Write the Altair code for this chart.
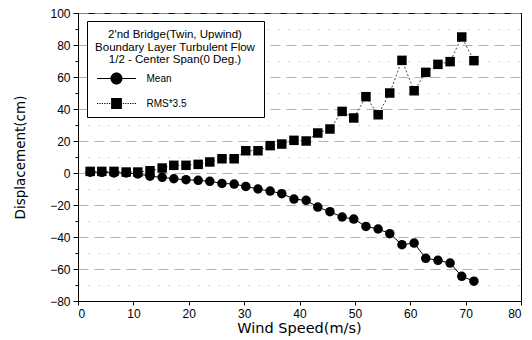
import altair as alt
import pandas as pd

wind_speed = [2.2, 4.3, 6.5, 8.7, 10.8, 13.0, 15.2, 17.3, 19.5, 21.7, 23.8,
              26.0, 28.2, 30.3, 32.5, 34.7, 36.8, 39.0, 41.2, 43.3, 45.5, 47.7,
              49.8, 52.0, 54.2, 56.3, 58.5, 60.7, 62.8, 65.0, 67.2, 69.3, 71.5]
mean_disp = [0.5, 0.4, 0.0, 0.0, -0.6, -2.0, -2.7, -3.6, -4.2, -4.6, -5.2,
             -6.5, -6.9, -8.4, -10.0, -11.3, -12.9, -16.3, -17.1, -21.3, -24.2, -27.5,
             -28.8, -33.4, -35.0, -37.9, -44.8, -43.8, -53.3, -54.6, -56.3, -64.6, -67.6]
rms_disp = [1.0, 1.0, 1.0, 0.6, 0.6, 1.4, 3.1, 4.8, 4.8, 5.4, 6.9,
            8.9, 8.9, 13.9, 13.9, 17.1, 18.1, 20.4, 20.0, 25.0, 27.5, 38.5,
            34.4, 47.7, 36.4, 50.0, 70.4, 51.4, 62.9, 67.9, 69.6, 85.0, 70.2]
series_names = ["Mean", "RMS*3.5"]
legend_title = ["2'nd Bridge(Twin, Upwind)", "Boundary Layer Turbulent Flow",
                "1/2 - Center Span(0 Deg.)"]

df = pd.concat([
    pd.DataFrame({"speed": wind_speed, "disp": mean_disp, "series": series_names[0]}),
    pd.DataFrame({"speed": wind_speed, "disp": rms_disp, "series": series_names[1]}),
])

FONT = "Liberation Sans"

x_enc = alt.X("speed:Q",
              scale=alt.Scale(domain=[0, 80], nice=False, zero=False),
              axis=alt.Axis(values=list(range(0, 81, 10)), title="Wind Speed(m/s)",
                            grid=False, tickSize=4, labelPadding=3,
                            labelFontSize=12, labelFont=FONT, labelColor="black",
                            titleFont="DejaVu Sans", titleFontSize=14.5, titleFontWeight="normal",
                            titleX=221, titleY=27, titleBaseline="middle",
                            titleColor="black", domainColor="black", tickColor="black"))
y_enc = alt.Y("disp:Q",
              scale=alt.Scale(domain=[-80, 100], nice=False, zero=False),
              axis=alt.Axis(values=list(range(-80, 101, 10)), title="Displacement(cm)",
                            labelExpr="datum.value % 20 == 0 ? datum.label : ''",
                            grid=True,
                            gridColor="#a0a0a0",
                            gridWidth=0.8,
                            gridDash=alt.condition("datum.value % 20 == 0",
                                                   alt.value([10, 6]), alt.value([1, 9])),
                            tickSize=alt.condition("datum.value % 20 == 0",
                                                   alt.value(5), alt.value(3)),
                            labelPadding=3, labelFontSize=12, labelFont=FONT,
                            labelColor="black",
                            titleFont="DejaVu Sans", titleFontSize=13.5, titleFontWeight="normal",
                            titleX=-58, titleY=144, titleAngle=-90, titleAlign="center",
                            titleBaseline="middle", titleColor="black",
                            domainColor="black", tickColor="black"))

base = alt.Chart(df)

line_mean = base.transform_filter(alt.datum.series == "Mean").mark_line(
    color="black", strokeWidth=1).encode(x=x_enc, y=y_enc)
line_rms = base.transform_filter(alt.datum.series == "RMS*3.5").mark_line(
    color="#444444", strokeWidth=1, strokeDash=[2, 2]).encode(x=x_enc, y=y_enc)

points = base.mark_point(filled=True, color="black", opacity=1, size=90).encode(
    x=x_enc, y=y_enc,
    shape=alt.Shape("series:N",
                    scale=alt.Scale(domain=series_names, range=["circle", "square"]),
                    legend=None))


# legend sample glyphs (line + marker), drawn as filled sub-paths in symbol units
def rect(x0, x1, h):
    return f"M{x0},{-h}L{x1},{-h}L{x1},{h}L{x0},{h}Z"


EXT = 22.7  # invisible anchor that widens the legend entry column
anchor = rect(EXT, EXT + 0.01, 0.005)
circle_path = (rect(-3.25, -1, 0.085) + rect(1, 3.25, 0.085)
               + "M-1,0A1,1 0 1,0 1,0A1,1 0 1,0 -1,0Z" + anchor)
dots = "".join(rect(round(a, 2), round(a + 0.2, 2), 0.07)
               for a in [-3.25, -2.85, -2.45, -2.05, -1.65, -1.25,
                         1.05, 1.45, 1.85, 2.25, 2.65, 3.05])
square_path = dots + "M-0.9,-0.9L0.9,-0.9L0.9,0.9L-0.9,0.9Z" + anchor

leg = alt.Legend(title=legend_title, orient="none", legendX=9, legendY=8,
                 strokeColor="black", fillColor="white", padding=8,
                 symbolSize=144, symbolOffset=13.5, labelOffset=24,
                 titleAnchor="middle", titleFont=FONT, titleFontSize=11.5,
                 titleFontWeight="normal", titleLineHeight=12.5, titlePadding=7,
                 titleColor="black",
                 labelFont=FONT, labelFontSize=10, labelColor="black",
                 rowPadding=13, symbolStrokeWidth=0, symbolFillColor="black")

legend_layer = base.transform_filter("false").mark_point(
    filled=True, color="black", opacity=1).encode(
    x=x_enc, y=y_enc,
    shape=alt.Shape("series:N",
                    scale=alt.Scale(domain=series_names, range=[circle_path, square_path]),
                    legend=leg),
)

chart = alt.layer(line_mean, line_rms, points, legend_layer).resolve_scale(
    shape="independent"
).properties(
    width=443, height=288,
    autosize=alt.AutoSizeParams(type="none"),
    padding={"left": 78, "top": 13, "right": 11, "bottom": 38},
    background="white",
).configure_view(stroke="black", strokeWidth=1)

chart.save("out.html", embed_options={"renderer": "svg", "actions": False})
